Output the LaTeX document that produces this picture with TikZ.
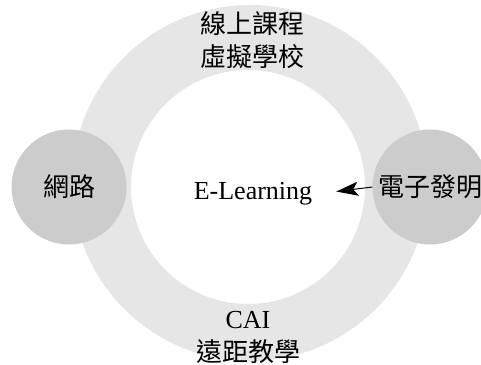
\documentclass[tikz,border=0pt]{standalone}
\usepackage{fontspec}
\setmainfont{Liberation Serif}
\newfontfamily\cjk{Noto Sans CJK TC}
\usetikzlibrary{arrows.meta}
\definecolor{ringgray}{HTML}{E6E6E6}
\definecolor{blobgray}{HTML}{CCCCCC}
\tikzstyle{blob}=[circle, fill=blobgray, minimum size=115pt, inner sep=0pt, font=\cjk\fontsize{26}{30}\selectfont]
\tikzstyle{ringtext}=[align=center, inner sep=0pt, font=\fontsize{26}{33}\selectfont]

\begin{document}
\begin{tikzpicture}[x=1pt,y=1pt]
            \useasboundingbox (0,0) rectangle (481,364);
            \fill[ringgray, even odd rule] (250,181) circle (178pt) (248,177) circle (117pt);
            \node[blob] at (69,177) (net) {網路};
            \node[blob] at (430,177) (dev) {電子發明};
            \node[font=\fontsize{26}{30}\selectfont, inner sep=4pt] at (253,170) (elearn) {E-Learning};
            \node[ringtext] at (252,324) (online) {\cjk 線上課程\\\cjk 虛擬學校};
            \node[ringtext] at (248,27) (cai) {CAI\\\cjk 遠距教學};
            \draw[-{Stealth[length=22pt,width=14pt,inset=5pt]}, line width=1pt, shorten >=20pt] (dev.west) -- (elearn.east);
        \end{tikzpicture}
\end{document}
